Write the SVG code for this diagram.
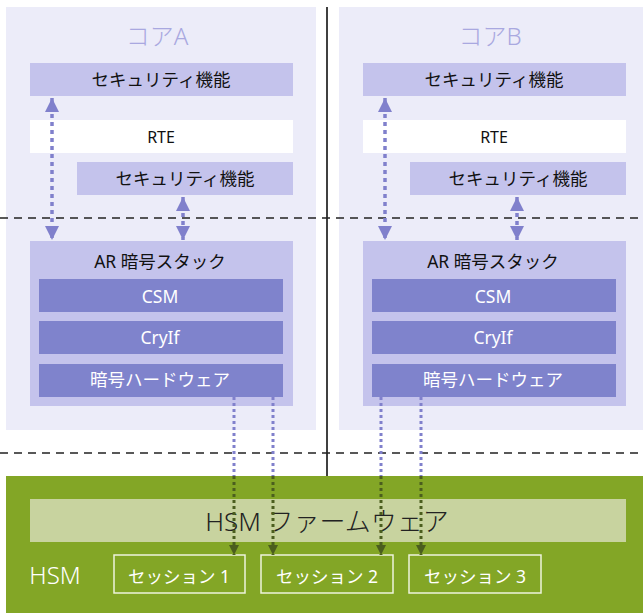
<svg xmlns="http://www.w3.org/2000/svg" width="643" height="613" viewBox="0 0 643 613">
<style>
text{font-family:"Noto Sans","Noto Sans CJK JP",sans-serif;text-anchor:middle}
.core{fill:#ececf9}
.sec{fill:#c4c3ec}
.rte{fill:#ffffff}
.inner{fill:#7f83cc}
.title{font-size:24px;fill:#a9a8e0;font-weight:300}
.lbl{font-size:17.5px;fill:#111}
.wl{font-size:17.5px;fill:#ffffff}
.updn{stroke:#8080cc;stroke-width:3.5;stroke-dasharray:4 4;fill:none}
.down{stroke:#8080cc;stroke-width:3;stroke-dasharray:3 3;fill:none}
.downg{stroke:#4b5e1e;stroke-width:3;stroke-dasharray:3 3;fill:none}
.dash{stroke:#222;stroke-width:1.3;stroke-dasharray:8 6}
.sess{fill:none;stroke:#eef3dd;stroke-width:1.5}
</style>
<defs>
<marker id="ap" viewBox="0 0 10 10" refX="10" refY="5" markerWidth="4" markerHeight="4" orient="auto-start-reverse" markerUnits="strokeWidth"><path d="M0,0 L10,5 L0,10 z" fill="#8080cc"/></marker>
<marker id="ag" viewBox="0 0 10 10" refX="10" refY="5" markerWidth="3.5" markerHeight="3.5" orient="auto" markerUnits="strokeWidth"><path d="M0,0 L10,5 L0,10 z" fill="#4b5e1e"/></marker>
</defs>
<rect width="643" height="613" fill="#ffffff"/>
<g id="coreA">
<rect class="core" x="6" y="7" width="310" height="423"/>
<text class="title" x="157" y="45">コアA</text>
</g>
<g id="coreB">
<rect class="core" x="339" y="7" width="304" height="423"/>
<text class="title" x="490" y="45">コアB</text>
</g>
<g id="secA1"><rect class="sec" x="30" y="63" width="263" height="33"/><text class="lbl" x="161" y="86">セキュリティ機能</text></g>
<g id="rteA"><rect class="rte" x="30" y="120" width="263" height="33"/><text class="lbl" x="161" y="143" style="font-size:16px">RTE</text></g>
<g id="secA2"><rect class="sec" x="77" y="162" width="216" height="33"/><text class="lbl" x="185" y="185">セキュリティ機能</text></g>
<g id="stackA">
<rect class="sec" x="30" y="241" width="263" height="165"/>
<text class="lbl" x="160" y="268">AR 暗号スタック</text>
<g id="csmA"><rect class="inner" x="39" y="279" width="244" height="33"/><text class="wl" x="160" y="303">CSM</text></g>
<g id="cryifA"><rect class="inner" x="39" y="321" width="244" height="33"/><text class="wl" x="160" y="344">CryIf</text></g>
<g id="hwA"><rect class="inner" x="39" y="364" width="244" height="33"/><text class="wl" x="160" y="386">暗号ハードウェア</text></g>
</g>
<g id="secB1"><rect class="sec" x="363" y="63" width="263" height="33"/><text class="lbl" x="494" y="86">セキュリティ機能</text></g>
<g id="rteB"><rect class="rte" x="363" y="120" width="263" height="33"/><text class="lbl" x="494" y="143" style="font-size:16px">RTE</text></g>
<g id="secB2"><rect class="sec" x="410" y="162" width="216" height="33"/><text class="lbl" x="518" y="185">セキュリティ機能</text></g>
<g id="stackB">
<rect class="sec" x="363" y="241" width="263" height="165"/>
<text class="lbl" x="493" y="268">AR 暗号スタック</text>
<g id="csmB"><rect class="inner" x="372" y="279" width="244" height="33"/><text class="wl" x="493" y="303">CSM</text></g>
<g id="cryifB"><rect class="inner" x="372" y="321" width="244" height="33"/><text class="wl" x="493" y="344">CryIf</text></g>
<g id="hwB"><rect class="inner" x="372" y="364" width="244" height="33"/><text class="wl" x="493" y="386">暗号ハードウェア</text></g>
</g>
<g id="hsm">
<rect x="6" y="476" width="637" height="137" fill="#83a626"/>
<text x="55" y="584" style="font-size:24px;fill:#fff;font-weight:300">HSM</text>
</g>
<g id="firmware"><rect x="30" y="499" width="596" height="43" fill="#c8d39f"/><text x="327" y="531" style="font-size:26px;fill:#222;font-weight:300">HSM ファームウェア</text></g>
<g id="s1"><rect class="sess" x="114" y="555" width="131" height="38"/><text class="wl" x="179" y="583">セッション 1</text></g>
<g id="s2"><rect class="sess" x="261" y="555" width="132" height="38"/><text class="wl" x="327" y="583">セッション 2</text></g>
<g id="s3"><rect class="sess" x="409" y="555" width="132" height="38"/><text class="wl" x="475" y="583">セッション 3</text></g>
<g id="connectors">
<line x1="327" y1="7" x2="327" y2="476" stroke="#000" stroke-width="1.5"/>
<line class="dash" x1="0" y1="218" x2="643" y2="218"/>
<line class="dash" x1="0" y1="453" x2="643" y2="453"/>
<line class="updn" x1="52" y1="98" x2="52" y2="240" marker-start="url(#ap)" marker-end="url(#ap)"/>
<line class="updn" x1="183" y1="197" x2="183" y2="240" marker-start="url(#ap)" marker-end="url(#ap)"/>
<line class="updn" x1="385" y1="98" x2="385" y2="240" marker-start="url(#ap)" marker-end="url(#ap)"/>
<line class="updn" x1="517" y1="197" x2="517" y2="240" marker-start="url(#ap)" marker-end="url(#ap)"/>
<line class="down" x1="234" y1="397" x2="234" y2="476"/>
<line class="down" x1="273" y1="397" x2="273" y2="476"/>
<line class="down" x1="381" y1="397" x2="381" y2="476"/>
<line class="down" x1="421" y1="397" x2="421" y2="476"/>
<line class="downg" x1="234" y1="476" x2="234" y2="555" marker-end="url(#ag)"/>
<line class="downg" x1="273" y1="476" x2="273" y2="555" marker-end="url(#ag)"/>
<line class="downg" x1="381" y1="476" x2="381" y2="555" marker-end="url(#ag)"/>
<line class="downg" x1="421" y1="476" x2="421" y2="555" marker-end="url(#ag)"/>
</g>
</svg>
